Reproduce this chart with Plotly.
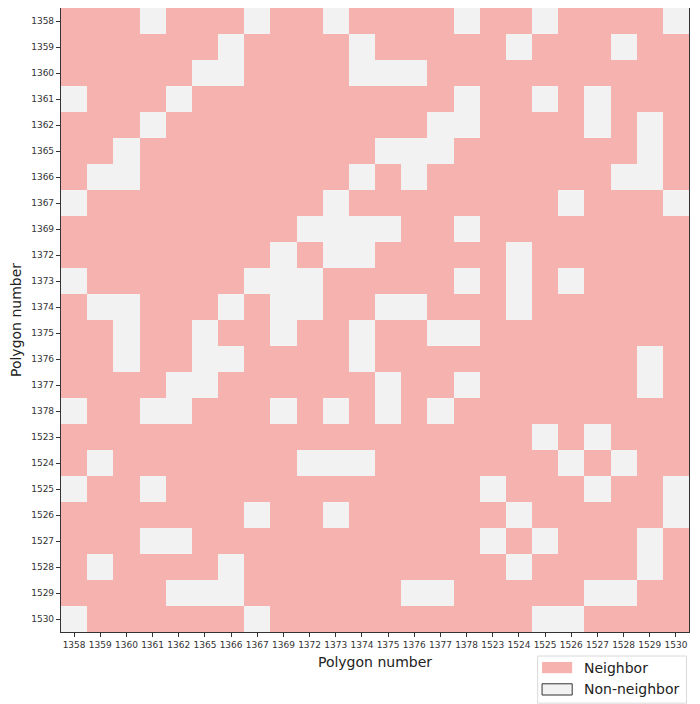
import plotly.graph_objects as go

# polygon ids, same order on both axes
polygons = ["1358", "1359", "1360", "1361", "1362", "1365", "1366", "1367",
            "1369", "1372", "1373", "1374", "1375", "1376", "1377", "1378",
            "1523", "1524", "1525", "1526", "1527", "1528", "1529", "1530"]

# 1 = neighbor, 0 = non-neighbor (row polygon vs column polygon)
adjacency = [
    [1,1,1,0,1,1,1,0,1,1,0,1,1,1,1,0,1,1,0,1,1,1,1,0],  # 1358
    [1,1,1,1,1,1,0,1,1,1,1,0,1,1,1,1,1,0,1,1,1,0,1,1],  # 1359
    [1,1,1,1,1,0,0,1,1,1,1,0,0,0,1,1,1,1,1,1,1,1,1,1],  # 1360
    [0,1,1,1,0,1,1,1,1,1,1,1,1,1,1,0,1,1,0,1,0,1,1,1],  # 1361
    [1,1,1,0,1,1,1,1,1,1,1,1,1,1,0,0,1,1,1,1,0,1,0,1],  # 1362
    [1,1,0,1,1,1,1,1,1,1,1,1,0,0,0,1,1,1,1,1,1,1,0,1],  # 1365
    [1,0,0,1,1,1,1,1,1,1,1,0,1,0,1,1,1,1,1,1,1,0,0,1],  # 1366
    [0,1,1,1,1,1,1,1,1,1,0,1,1,1,1,1,1,1,1,0,1,1,1,0],  # 1367
    [1,1,1,1,1,1,1,1,1,0,0,0,0,1,1,0,1,1,1,1,1,1,1,1],  # 1369
    [1,1,1,1,1,1,1,1,0,1,0,0,1,1,1,1,1,0,1,1,1,1,1,1],  # 1372
    [0,1,1,1,1,1,1,0,0,0,1,1,1,1,1,0,1,0,1,0,1,1,1,1],  # 1373
    [1,0,0,1,1,1,0,1,0,0,1,1,0,0,1,1,1,0,1,1,1,1,1,1],  # 1374
    [1,1,0,1,1,0,1,1,0,1,1,0,1,1,0,0,1,1,1,1,1,1,1,1],  # 1375
    [1,1,0,1,1,0,0,1,1,1,1,0,1,1,1,1,1,1,1,1,1,1,0,1],  # 1376
    [1,1,1,1,0,0,1,1,1,1,1,1,0,1,1,0,1,1,1,1,1,1,0,1],  # 1377
    [0,1,1,0,0,1,1,1,0,1,0,1,0,1,0,1,1,1,1,1,1,1,1,1],  # 1378
    [1,1,1,1,1,1,1,1,1,1,1,1,1,1,1,1,1,1,0,1,0,1,1,1],  # 1523
    [1,0,1,1,1,1,1,1,1,0,0,0,1,1,1,1,1,1,1,0,1,0,1,1],  # 1524
    [0,1,1,0,1,1,1,1,1,1,1,1,1,1,1,1,0,1,1,1,0,1,1,0],  # 1525
    [1,1,1,1,1,1,1,0,1,1,0,1,1,1,1,1,1,0,1,1,1,1,1,0],  # 1526
    [1,1,1,0,0,1,1,1,1,1,1,1,1,1,1,1,0,1,0,1,1,1,0,1],  # 1527
    [1,0,1,1,1,1,0,1,1,1,1,1,1,1,1,1,1,0,1,1,1,1,0,1],  # 1528
    [1,1,1,1,0,0,0,1,1,1,1,1,1,0,0,1,1,1,1,1,0,0,1,1],  # 1529
    [0,1,1,1,1,1,1,0,1,1,1,1,1,1,1,1,1,1,0,0,1,1,1,1],  # 1530
]

NEIGHBOR = "#f6b2ae"
NON_NEIGHBOR = "#f2f2f2"
FONT = "DejaVu Sans"

fig = go.Figure()
fig.add_trace(go.Heatmap(
    z=adjacency,
    x=list(range(len(polygons))),
    y=list(range(len(polygons))),
    zmin=0, zmax=1,
    colorscale=[[0, NON_NEIGHBOR], [0.5, NON_NEIGHBOR], [0.5, NEIGHBOR], [1, NEIGHBOR]],
    showscale=False,
    xgap=0, ygap=0,
))

axis_common = dict(
    tickmode="array",
    tickvals=list(range(len(polygons))),
    ticktext=polygons,
    ticks="outside", ticklen=4, tickwidth=1, tickcolor="#333",
    tickfont=dict(family=FONT, size=9, color="#333"),
    showgrid=False, zeroline=False,
    showline=True, linecolor="#333", linewidth=1.2, mirror=True,
    title_font=dict(family=FONT, size=14, color="#222"),
)

fig.update_xaxes(axis_common, range=[-0.5, 23.5], title_text="Polygon number",
                 title_standoff=8)
fig.update_yaxes(axis_common, range=[23.5, -0.5], title_text="Polygon number",
                 title_standoff=14)

# matplotlib-style legend box in the lower right
fig.add_shape(type="rect", xref="paper", yref="paper",
              x0=0.759, x1=0.996, y0=-0.0385, y1=-0.114,
              line=dict(color="#d9d9d9", width=1), fillcolor="white")
fig.add_shape(type="rect", xref="paper", yref="paper",
              x0=0.766, x1=0.814, y0=-0.048, y1=-0.066,
              line=dict(width=0), fillcolor=NEIGHBOR)
fig.add_shape(type="rect", xref="paper", yref="paper",
              x0=0.766, x1=0.814, y0=-0.083, y1=-0.101,
              line=dict(color="#333", width=1), fillcolor=NON_NEIGHBOR)
for label, yy in [("Neighbor", -0.057), ("Non-neighbor", -0.092)]:
    fig.add_annotation(xref="paper", yref="paper", x=0.830, y=yy, text=label,
                       showarrow=False, xanchor="left", yanchor="middle",
                       font=dict(family=FONT, size=14, color="#222"))

# page body adds an 8px offset, so the figure is sized to fit the window
fig.update_layout(
    width=692, height=696,
    margin=dict(l=53, r=11, t=0, b=72),
    plot_bgcolor="white", paper_bgcolor="white",
    showlegend=False,
)

fig.write_html("out.html")
